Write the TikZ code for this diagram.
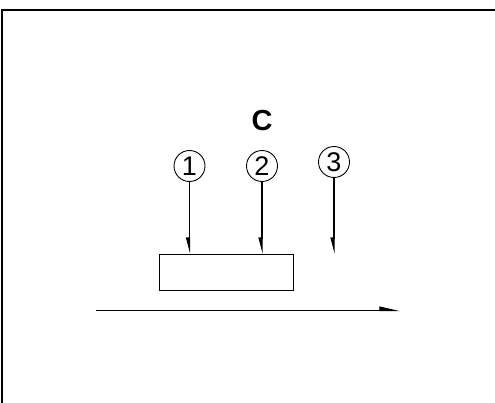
\documentclass[tikz,border=0pt]{standalone}
\usepackage{fontspec}
\setmainfont{Liberation Sans}
\usetikzlibrary{arrows.meta}
\begin{document}
\begin{tikzpicture}[x=1pt, y=-1pt, inner sep=0pt,
	num/.style={draw, circle, line width=0.9pt, minimum size=31pt, font=\fontsize{27}{27}\selectfont},
	box/.style={draw, line width=1.3pt, minimum width=134pt, minimum height=36pt},
	harp/.style={line width=1.2pt, -{Triangle[harpoon, swap, length=14pt, width=7pt]}},
	flow/.style={line width=1.2pt, -{Triangle[harpoon, length=18pt, width=8pt]}}]
	\useasboundingbox (0,0) rectangle (495,403);
	\draw[line width=2pt] (2,403) -- (2,10) -- (495,10);
	\node[font=\fontsize{29}{29}\selectfont\bfseries] (c) at (262,121) {C};
	\node[num] (n1) at (189.5,166) {1};
	\node[num] (n2) at (262,166) {2};
	\node[num] (n3) at (334,162) {3};
	\node[box] (block) at (226.5,272.5) {};
	\coordinate (e3) at (n3.south |- block.north);
	\draw[harp] (n1.south) -- (n1.south |- block.north);
	\draw[harp] (n2.south) -- (n2.south |- block.north);
	\draw[harp] (n3.south) -- (e3);
	% bottom flow
	\coordinate (start) at (96,310.5);
	\coordinate (end) at (400,310.5);
	\draw[flow] (start) -- (end);
\end{tikzpicture}
\end{document}
